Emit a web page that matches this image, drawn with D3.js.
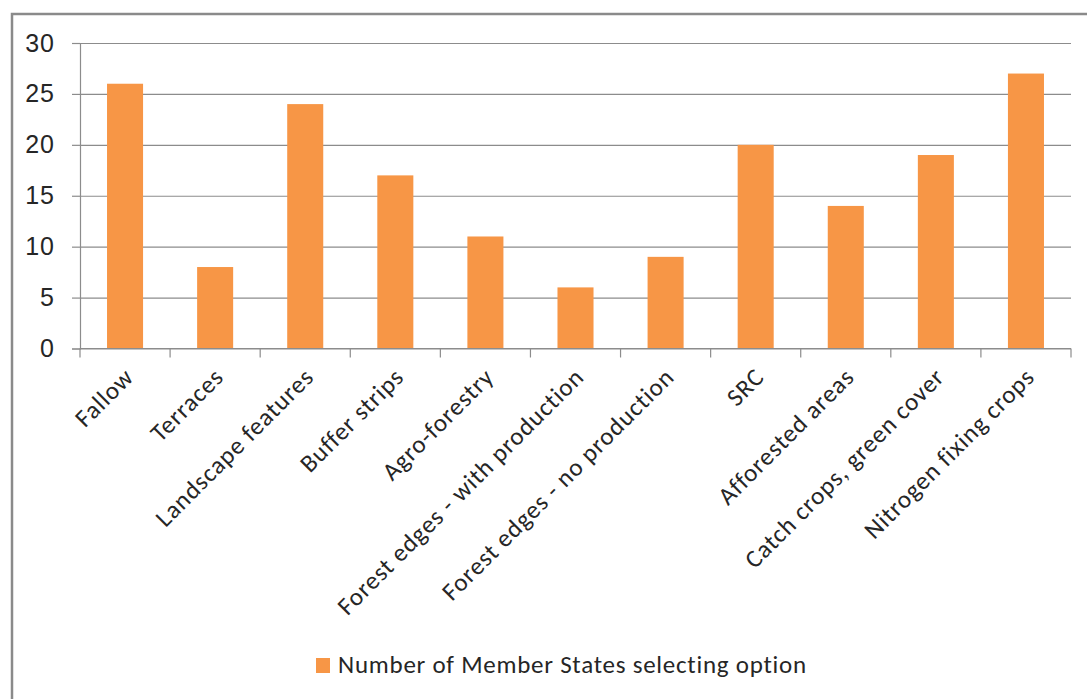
<!DOCTYPE html>
<html>
<head>
<meta charset="utf-8">
<script src="https://cdn.jsdelivr.net/npm/d3@7"></script>
<style>
  body { margin: 0; background: #fff; }
  svg { display: block; font-family: Calibri, Carlito, "Liberation Sans", "Open Sans", sans-serif; }
</style>
</head>
<body>
<svg id="chart-svg" width="1087" height="699"></svg>
<script>
// Chart data
const categories = ["Fallow", "Terraces", "Landscape features", "Buffer strips", "Agro-forestry",
    "Forest edges - with production", "Forest edges - no production", "SRC", "Afforested areas",
    "Catch crops, green cover", "Nitrogen fixing crops"];
const memberStates = [26, 8, 24, 17, 11, 6, 9, 20, 14, 19, 27];
const yTicks = [0, 5, 10, 15, 20, 25, 30];
const seriesName = "Number of Member States selecting option";

const svg = d3.select('#chart-svg');

// Outer frame
svg.append("rect")
    .attr("x", 12).attr("y", 14)
    .attr("width", 1100).attr("height", 720)
    .attr("fill", "none")
    .attr("stroke", "#8a8a8a")
    .attr("stroke-width", 2.5);

const plot = {left: 80, right: 1071, top: 43, bottom: 348.5};

const xScale = d3.scaleBand()
    .domain(categories)
    .range([plot.left, plot.right])
    .paddingInner(0.6)
    .paddingOuter(0.3);

const yScale = d3.scaleLinear()
    .domain([0, 30])
    .range([plot.bottom, plot.top]);

// Gridlines
svg.append("g")
    .attr("transform", "translate(" + plot.left + ",0)")
    .call(d3.axisLeft(yScale).tickValues(yTicks).tickSize(-(plot.right - plot.left)).tickFormat(""))
    .call(g => g.select(".domain").remove())
    .call(g => g.selectAll("line").attr("stroke", "#8c8c8c").attr("stroke-width", 1.2));

// Y axis
svg.append("g")
    .attr("transform", "translate(" + plot.left + ",0)")
    .call(d3.axisLeft(yScale).tickValues(yTicks).tickSize(8).tickPadding(17))
    .call(g => g.select(".domain").attr("stroke", "#8c8c8c").attr("stroke-width", 1.2))
    .call(g => g.selectAll("line").attr("stroke", "#8c8c8c").attr("stroke-width", 1.2))
    .call(g => g.selectAll("text").attr("font-size", 25).attr("letter-spacing", 1).attr("fill", "#262626"));

// Bars
svg.append("g").selectAll("rect")
    .data(memberStates)
    .join("rect")
    .attr("x", (d, i) => xScale(categories[i]))
    .attr("y", d => yScale(d))
    .attr("width", xScale.bandwidth())
    .attr("height", d => yScale(0) - yScale(d))
    .attr("fill", "#f79646");

// X axis line
svg.append("line")
    .attr("x1", plot.left).attr("x2", plot.right)
    .attr("y1", plot.bottom).attr("y2", plot.bottom)
    .attr("stroke", "#8c8c8c").attr("stroke-width", 1.2);

// Category boundary ticks
const boundaries = d3.range(categories.length + 1).map(i => plot.left + (plot.right - plot.left) * i / categories.length);
svg.append("g").selectAll("line")
    .data(boundaries)
    .join("line")
    .attr("x1", d => d).attr("x2", d => d)
    .attr("y1", plot.bottom).attr("y2", plot.bottom + 9)
    .attr("stroke", "#8c8c8c").attr("stroke-width", 1.2);

// Rotated category labels
svg.append("g").selectAll("text")
    .data(categories)
    .join("text")
    .attr("transform", d => "translate(" + (xScale(d) + xScale.bandwidth() / 2 + 10) + "," + (plot.bottom + 30) + ") rotate(-45)")
    .attr("text-anchor", "end")
    .attr("font-size", 25)
    .attr("letter-spacing", 0.9)
    .attr("fill", "#262626")
    .text(d => d);

// Legend
const legend = svg.append("g").attr("transform", "translate(316,658)");
legend.append("rect")
    .attr("width", 14).attr("height", 15)
    .attr("fill", "#f79646");
legend.append("text")
    .attr("x", 22).attr("y", 15)
    .attr("font-size", 25)
    .attr("letter-spacing", 0.75)
    .attr("fill", "#262626")
    .text(seriesName);
</script>
</body>
</html>
